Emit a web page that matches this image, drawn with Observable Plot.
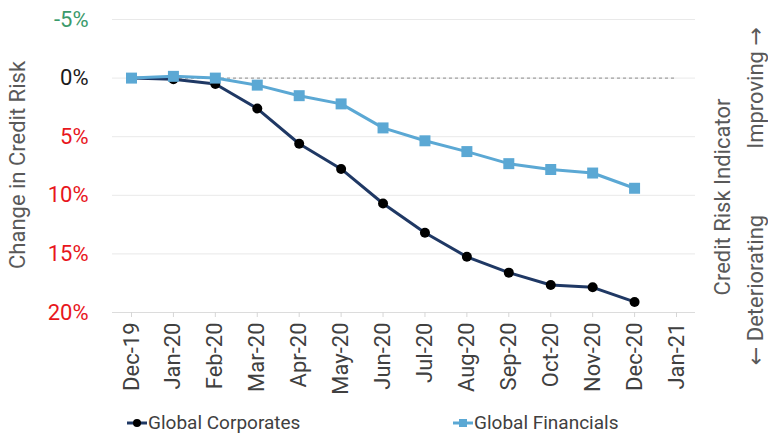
<!DOCTYPE html>
<html><head><meta charset="utf-8">
<script src="https://cdn.jsdelivr.net/npm/d3@7"></script>
<script src="https://cdn.jsdelivr.net/npm/@observablehq/plot@0.6"></script>
<style>
body{margin:0;background:#fff;font-family:Roboto,sans-serif;}
#wrap{position:relative;width:768px;height:445px;overflow:hidden;}
#legend{position:absolute;left:0;top:400px;width:768px;height:45px;}
.item{position:absolute;top:11px;display:flex;align-items:center;font-size:19px;color:#404040;font-family:Roboto,sans-serif;}
</style></head><body><div id="wrap"></div>
<script>
const months = ["Dec-19","Jan-20","Feb-20","Mar-20","Apr-20","May-20","Jun-20","Jul-20","Aug-20","Sep-20","Oct-20","Nov-20","Dec-20","Jan-21"];
const corporates = [0,0.1,0.5,2.6,5.6,7.75,10.7,13.2,15.25,16.6,17.65,17.85,19.1];
const financials = [0,-0.15,0,0.6,1.5,2.2,4.25,5.35,6.27,7.3,7.8,8.1,9.4];
const seriesNames = ["Global Corporates","Global Financials"];
const seriesColors = ["#1f3864","#5ba8d4"];
const markerColors = ["#000000","#5ba8d4"];
const yTicks = [-5,0,5,10,15,20];
const yTickColors = ["#3b9a6b","#1a1a1a","#e8161c","#e8161c","#e8161c","#e8161c"];

const corpData = corporates.map((v,i)=>({i, v, s: seriesNames[0]}));
const finData = financials.map((v,i)=>({i, v, s: seriesNames[1]}));
const xIdx = d3.range(months.length);

const chart = Plot.plot({
  width: 768, height: 400,
  marginLeft: 112, marginRight: 73, marginTop: 19, marginBottom: 88,
  style: {fontFamily: "Roboto, sans-serif", fontSize: "22px", background: "#fff"},
  x: {type: "linear", domain: [-0.453, months.length - 1 + 0.453]},
  y: {type: "linear", domain: [yTicks[0], yTicks[yTicks.length-1]], reverse: true},
  color: {domain: seriesNames, range: seriesColors},
  marks: [
    Plot.ruleY(yTicks, {stroke: "#e9e9e9", strokeWidth: 1}),
    Plot.ruleY([yTicks[yTicks.length-1]], {stroke: "#dcdcdc", strokeWidth: 1}),
    Plot.ruleY([0], {x1: 0, x2: months.length - 1, stroke: "#8a8a8a", strokeDasharray: "3,3", strokeWidth: 1}),
    Plot.line(corpData, {x: "i", y: "v", stroke: "s", strokeWidth: 3}),
    Plot.dot(corpData, {x: "i", y: "v", r: 5, fill: markerColors[0], symbol: "circle"}),
    Plot.line(finData, {x: "i", y: "v", stroke: "s", strokeWidth: 3}),
    Plot.dot(finData, {x: "i", y: "v", r: 6.2, fill: markerColors[1], symbol: "square"}),
    Plot.text(yTicks, {y: d => d, frameAnchor: "left", textAnchor: "end", dx: -24,
      text: d => d + "%", fill: d => yTickColors[yTicks.indexOf(d)], fontSize: 22}),
    Plot.axisX(xIdx, {tickFormat: i => months[i], tickRotate: -90, tickSize: 5, tickPadding: 5,
      stroke: "#d6d6d6", fill: "#404040", fontSize: 22, label: null}),
    Plot.axisY({ticks: [], label: null, tickSize: 0})
  ]
});

const wrap = document.getElementById("wrap");
wrap.appendChild(chart);
const svg = d3.select(chart);
function rotLabel(parts, cx, cy, fill) {
  const t = svg.append("text").attr("transform", `translate(${cx},${cy}) rotate(-90)`)
    .attr("text-anchor", "middle").attr("dominant-baseline", "central")
    .attr("fill", fill).attr("font-size", 22).attr("font-family", "Roboto, sans-serif");
  parts.forEach(p => {
    const ts = t.append("tspan").text(p.t);
    if (p.arrow) ts.attr("font-family", "DejaVu Sans");
  });
}
rotLabel([{t: "Change in Credit Risk"}], 17, 165, "#595959");
rotLabel([{t: "Credit Risk Indicator"}], 722, 197, "#595959");
rotLabel([{t: "Improving "}, {t: "\u2192", arrow: true}], 755, 88, "#595959");
rotLabel([{t: "\u2190", arrow: true}, {t: " Deteriorating"}], 755, 290, "#595959");

// Legend
const legend = document.createElement("div");
legend.id = "legend";
const lefts = [127, 453];
seriesNames.forEach((name, k) => {
  const item = document.createElement("div");
  item.className = "item";
  item.style.left = lefts[k] + "px";
  const marker = k === 0
    ? `<circle cx="10" cy="7" r="4" fill="${markerColors[0]}"/>`
    : `<rect x="6" y="3" width="8" height="8" fill="${markerColors[1]}"/>`;
  item.innerHTML = `<svg width="20" height="14"><line x1="0" y1="7" x2="20" y2="7" stroke="${seriesColors[k]}" stroke-width="3"/>${marker}</svg><span style="margin-left:1px">${name}</span>`;
  legend.appendChild(item);
});
wrap.appendChild(legend);
</script></body></html>
